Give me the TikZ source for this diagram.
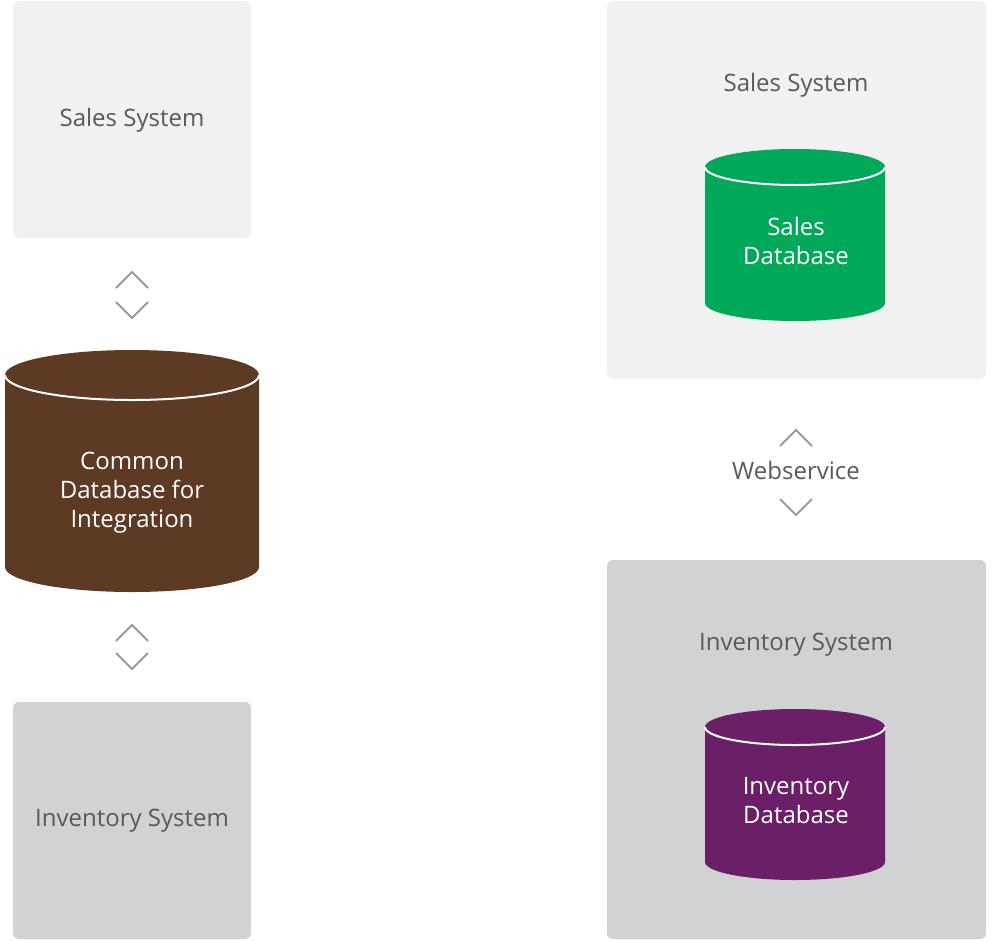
\documentclass[tikz,border=0pt]{standalone}
\usepackage{fontspec}
\setmainfont{Open Sans}
\definecolor{lightbox}{HTML}{F0F1F0}
\definecolor{darkbox}{HTML}{D1D2D4}
\definecolor{txtgray}{HTML}{58595B}
\definecolor{chev}{HTML}{999999}
\definecolor{brown}{HTML}{5C3A24}
\definecolor{green}{HTML}{00A859}
\definecolor{purple}{HTML}{6B1F66}
\begin{document}
\begin{tikzpicture}[x=1pt,y=-1pt,
  sysbox/.style={rounded corners=6pt},
  label/.style={text=txtgray,font=\fontsize{24}{29}\selectfont,inner sep=0pt},
  dblabel/.style={text=white,font=\fontsize{24}{29}\selectfont,align=center,inner sep=0pt},
  chevline/.style={draw=chev,line width=2pt}]
\useasboundingbox (0,0) rectangle (1003,940);
% boxes
\fill[lightbox,sysbox] (13,1) rectangle (251,238);
\fill[darkbox,sysbox] (13,702) rectangle (251,939);
\fill[lightbox,sysbox] (607,1) rectangle (986,379);
\fill[darkbox,sysbox] (607,560) rectangle (986,939);
\node[label] (ls) at (132,120) {Sales System};
\node[label] (li) at (132,821) {Inventory System};
\node[label] (rs) at (796,85) {Sales System};
\node[label] (ri) at (796,645) {Inventory System};
% common cylinder
\fill[brown] (5,375) -- (5,567) arc[start angle=180,end angle=0,x radius=127,y radius=25] -- (259,375) arc[start angle=0,end angle=-180,x radius=127,y radius=25] -- cycle;
\draw[white,line width=2pt] (5,375) arc[start angle=180,end angle=0,x radius=127,y radius=25];
\node[dblabel] (cdb) at (132,493) {Common\\Database for\\Integration};
% sales db
\fill[green] (705,167) -- (705,303) arc[start angle=180,end angle=0,x radius=90,y radius=18] -- (885,167) arc[start angle=0,end angle=-180,x radius=90,y radius=18] -- cycle;
\draw[white,line width=2pt] (705,167) arc[start angle=180,end angle=0,x radius=90,y radius=18];
\node[dblabel] (sdb) at (796,240.5) {Sales\\Database};
% inventory db
\fill[purple] (705,727) -- (705,862) arc[start angle=180,end angle=0,x radius=90,y radius=18] -- (885,727) arc[start angle=0,end angle=-180,x radius=90,y radius=18] -- cycle;
\draw[white,line width=2pt] (705,727) arc[start angle=180,end angle=0,x radius=90,y radius=18];
\node[dblabel] (idb) at (796,801) {Inventory\\Database};
% chevrons
\draw[chevline] (116,288) -- (132,272) -- (148,288);
\draw[chevline] (116,302) -- (132,318) -- (148,302);
\draw[chevline] (116,641) -- (132,625) -- (148,641);
\draw[chevline] (116,653) -- (132,669) -- (148,653);
\draw[chevline] (780,446) -- (796,430) -- (812,446);
\draw[chevline] (780,499) -- (796,515) -- (812,499);
\node[label] (ws) at (796,470) {Webservice};
\end{tikzpicture}
\end{document}
